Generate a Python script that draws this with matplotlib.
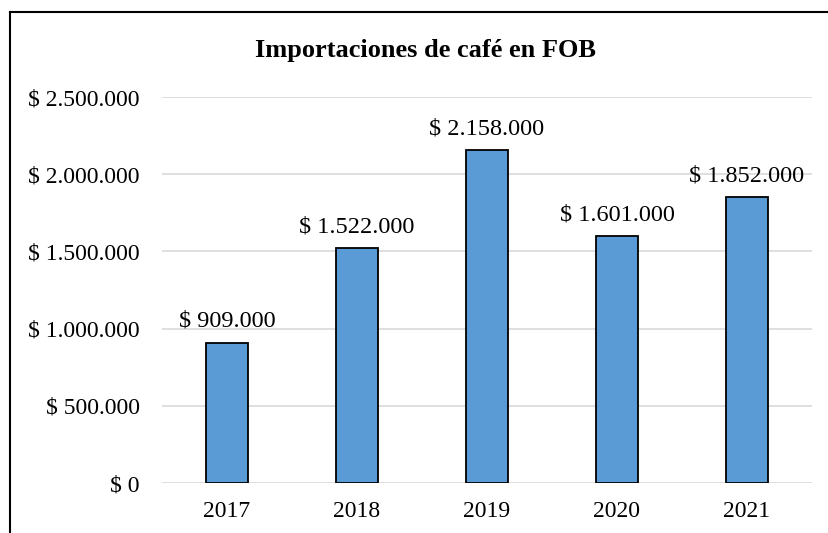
import matplotlib.pyplot as plt
from matplotlib.lines import Line2D

years = ["2017", "2018", "2019", "2020", "2021"]
imports_fob = [909000, 1522000, 2158000, 1601000, 1852000]
y_ticks = [0, 500000, 1000000, 1500000, 2000000, 2500000]


def money(v):
    # spanish style thousands separator
    return "$ " + f"{v:,.0f}".replace(",", ".")


plt.rcParams["font.family"] = ["Liberation Serif", "DejaVu Serif"]

fig = plt.figure(figsize=(8.29, 5.33), dpi=100)
ax = fig.add_axes([0.1954, 0.0938, 0.7841, 0.7242])

x = range(len(years))
bars = ax.bar(x, imports_fob, width=0.32, color="#5B9BD5", edgecolor="black",
              linewidth=1.3, zorder=3)

for b, v in zip(bars, imports_fob):
    ax.text(b.get_x() + b.get_width() / 2, v + 70000, money(v),
            ha="center", va="bottom", fontsize=17.5)

ax.set_xlim(-0.5, len(years) - 0.5)
ax.set_ylim(0, 2500000)
ax.set_xticks(list(x))
ax.set_xticklabels(years, fontsize=17)
ax.set_yticks(y_ticks)
ax.set_yticklabels([money(v) for v in y_ticks], fontsize=17)
ax.tick_params(length=0, pad=16)
ax.tick_params(axis="x", pad=13)
ax.grid(axis="y", color="#D9D9D9", linewidth=1.2, zorder=0)
for s in ax.spines.values():
    s.set_visible(False)

fig.text(0.513, 0.906, "Importaciones de café en FOB", ha="center", va="center",
         fontsize=19, fontweight="bold")

# chart frame (left and top edge visible)
fig.add_artist(Line2D([10 / 829, 10 / 829], [0, 1 - 12 / 533], color="black",
                      linewidth=1.5, transform=fig.transFigure))
fig.add_artist(Line2D([10 / 829, 1], [1 - 12 / 533, 1 - 12 / 533], color="black",
                      linewidth=1.5, transform=fig.transFigure))

fig.savefig("out.png", dpi=100)
